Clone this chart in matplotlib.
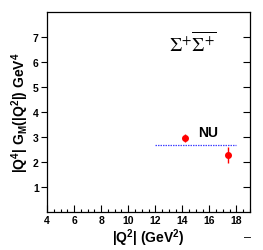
import matplotlib
matplotlib.use("Agg")
import matplotlib.pyplot as plt
from matplotlib.ticker import MultipleLocator

plt.rcParams['font.family'] = ['Liberation Sans', 'DejaVu Sans']
plt.rcParams['mathtext.fontset'] = 'custom'
plt.rcParams['mathtext.rm'] = 'Liberation Sans:bold'
plt.rcParams['mathtext.it'] = 'Liberation Sans:bold'
plt.rcParams['mathtext.bf'] = 'Liberation Sans:bold'

# data
q2 = [14.2, 17.4]
gm = [2.97, 2.29]
gm_err = [0.16, 0.33]
nu_x = [12, 18]
nu_y = [2.70, 2.70]
xticks = [4, 6, 8, 10, 12, 14, 16, 18]
yticks = [1, 2, 3, 4, 5, 6, 7]

fig = plt.figure(figsize=(2.63, 2.51), dpi=100)
ax = fig.add_axes([47/263, 1-213.4/251, (250-47)/263, (213.4-12.6)/251])

ax.errorbar(q2, gm, yerr=gm_err, fmt='o', color='#ff0000', ms=4,
            elinewidth=1.0, capsize=0, zorder=3)
ax.plot(nu_x, nu_y, color='#4040ff', ls=(0, (1.2, 0.8)), lw=0.9)

ax.set_xlim(4, 19)
ax.set_ylim(0, 8)
ax.set_xticks(xticks)
ax.set_yticks(yticks)
ax.xaxis.set_minor_locator(MultipleLocator(0.5))
ax.tick_params(axis='x', which='major', direction='in', length=5, width=0.8,
               labelsize=7.5, pad=2)
ax.tick_params(axis='x', which='minor', direction='in', length=2.5, width=0.8)
ax.tick_params(axis='y', which='major', direction='out', length=4, width=0.8,
               labelsize=7.5, pad=2, right=True)
for t in ax.yaxis.get_major_ticks():
    t.tick2line.set_marker(matplotlib.lines.TICKLEFT)
    t.tick2line.set_markersize(5)
for lab in ax.get_xticklabels() + ax.get_yticklabels():
    lab.set_fontweight('bold')
for s in ax.spines.values():
    s.set_linewidth(0.9)

ax.set_xlabel(r'|Q$^{2}$| (GeV$^{2}$)', fontsize=10, fontweight='bold', labelpad=1)
ax.set_ylabel(r'|Q$^{4}$| G$_{M}$(|Q$^{2}$|) GeV$^{4}$', fontsize=10,
              fontweight='bold', labelpad=1.5)

ax.text(13.0, 6.75, r'$\Sigma^{+}\overline{\Sigma^{+}}$', fontsize=14,
        fontweight='normal', math_fontfamily='stix', ha='left', va='center')
ax.text(15.2, 3.22, 'NU', fontsize=10, fontweight='bold', ha='left', va='center')
fig.text(247/263, 1-238/251, '–', fontsize=9, ha='center', va='center')

fig.savefig('out.png', dpi=100)
